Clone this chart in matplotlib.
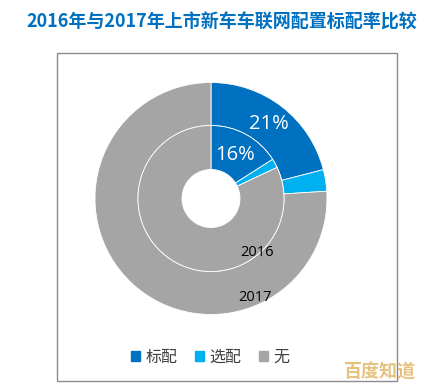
import numpy as np
import matplotlib.pyplot as plt
from matplotlib.patches import Rectangle

plt.rcParams['font.family'] = ['Noto Sans CJK SC', 'DejaVu Sans']

title = '2016年与2017年上市新车车联网配置标配率比较'
categories = ['标配', '选配', '无']
colors = ['#0070C0', '#00B0F0', '#A5A5A5']
share_2017 = [21, 3, 76]
share_2016 = [16, 2, 82]

W, H = 444, 391
fig = plt.figure(figsize=(W / 100, H / 100), dpi=100)
ax = fig.add_axes([0, 0, 1, 1])

# pixel layout (y measured upward)
cx, cy = 211, H - 198.5
r_out, r_mid, r_hole = 116, 73, 29
width = r_out - r_mid

outer, _ = ax.pie(share_2017, colors=colors, radius=r_out, center=(cx, cy),
                  startangle=90, counterclock=False,
                  wedgeprops=dict(width=width, edgecolor='white', linewidth=0.6))
inner, _ = ax.pie(share_2016, colors=colors, radius=r_mid, center=(cx, cy),
                  startangle=90, counterclock=False,
                  wedgeprops=dict(width=r_mid - r_hole, edgecolor='white', linewidth=0.6))


def pct_label(wedge, value, rad):
    ang = np.deg2rad((wedge.theta1 + wedge.theta2) / 2)
    ax.text(cx + rad * np.cos(ang), cy + rad * np.sin(ang), '%d%%' % value,
            color='white', fontsize=14.5, ha='center', va='center',
            family=['Open Sans', 'DejaVu Sans'])


pct_label(outer[0], share_2017[0], 94)
pct_label(inner[0], share_2016[0], 50)

ax.text(cx + 46, cy - 54, '2016', fontsize=10.5, ha='center', va='center',
        family=['Open Sans', 'DejaVu Sans'])
ax.text(cx + 44, cy - 99, '2017', fontsize=10.5, ha='center', va='center',
        family=['Open Sans', 'DejaVu Sans'])

ax.add_patch(Rectangle((57, H - 381), 340, 328, fill=False,
                       edgecolor='#8C8C8C', linewidth=1.0))

ax.set_xlim(0, W)
ax.set_ylim(0, H)
ax.set_aspect('auto')
ax.axis('off')

fig.text(0.5, 1 - 22 / H, title, ha='center', va='center', fontsize=13,
         fontweight='bold', color='#0070C0')

handles = [plt.Rectangle((0, 0), 1, 1, color=c) for c in colors]
fig.legend(handles, categories, loc='center', bbox_to_anchor=(210 / W, 1 - 357 / H),
           ncol=3, frameon=False, fontsize=11.5, handlelength=0.55, handleheight=0.55,
           handletextpad=0.35, columnspacing=1.1, labelcolor='#404040')

# watermark
fig.text(380 / W, 1 - 372 / H, '百度知道', ha='center', va='center', fontsize=13,
         fontweight='bold', color='#E3B868', alpha=0.85)

fig.savefig('out.png', dpi=100)
